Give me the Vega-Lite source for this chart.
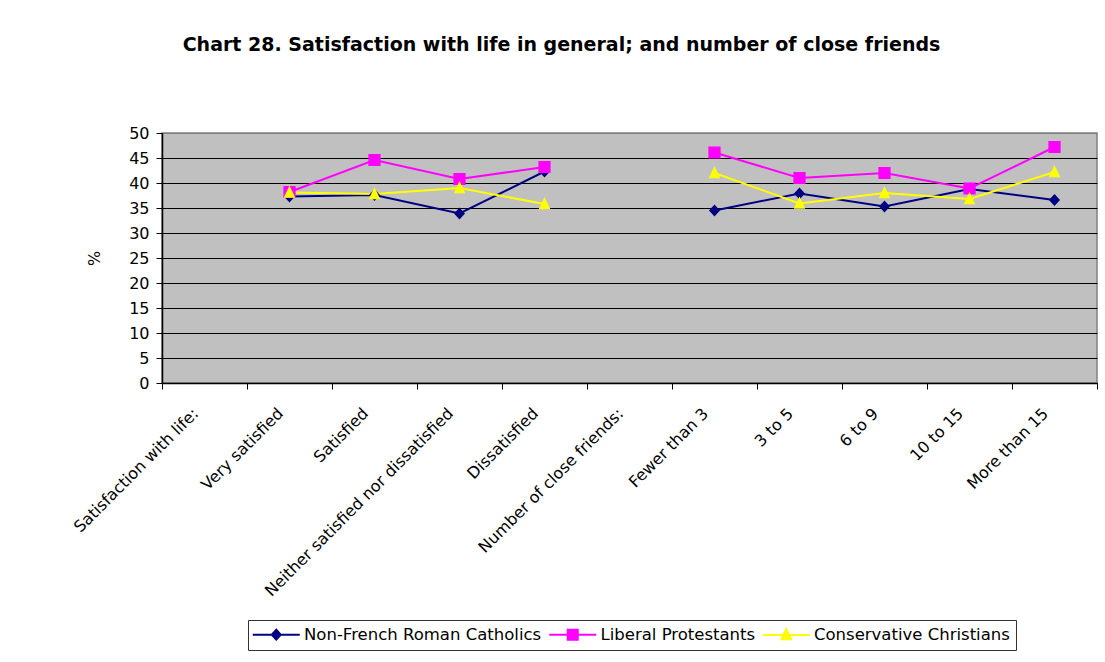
{
  "$schema": "https://vega.github.io/schema/vega-lite/v6.json",
  "width": 935,
  "height": 250,
  "autosize": {"type": "none"},
  "padding": {"left": 162, "top": 133, "right": 8, "bottom": 279},
  "background": "white",
  "title": {
    "text": "Chart 28. Satisfaction with life in general; and number of close friends",
    "font": "DejaVu Sans",
    "fontSize": 19,
    "fontWeight": "bold",
    "color": "black",
    "anchor": "middle",
    "frame": "group",
    "baseline": "alphabetic",
    "offset": 55,
    "dx": -68
  },
  "data": {
    "values": [
      {"series": "Non-French Roman Catholics", "section": "Satisfaction with life", "category": "Very satisfied", "value": 37.3},
      {"series": "Non-French Roman Catholics", "section": "Satisfaction with life", "category": "Satisfied", "value": 37.6},
      {"series": "Non-French Roman Catholics", "section": "Satisfaction with life", "category": "Neither satisfied nor dissatisfied", "value": 33.9},
      {"series": "Non-French Roman Catholics", "section": "Satisfaction with life", "category": "Dissatisfied", "value": 42.3},
      {"series": "Non-French Roman Catholics", "section": "Number of close friends", "category": "Fewer than 3", "value": 34.5},
      {"series": "Non-French Roman Catholics", "section": "Number of close friends", "category": "3 to 5", "value": 37.9},
      {"series": "Non-French Roman Catholics", "section": "Number of close friends", "category": "6 to 9", "value": 35.3},
      {"series": "Non-French Roman Catholics", "section": "Number of close friends", "category": "10 to 15", "value": 38.8},
      {"series": "Non-French Roman Catholics", "section": "Number of close friends", "category": "More than 15", "value": 36.6},
      {"series": "Liberal Protestants", "section": "Satisfaction with life", "category": "Very satisfied", "value": 38.2},
      {"series": "Liberal Protestants", "section": "Satisfaction with life", "category": "Satisfied", "value": 44.6},
      {"series": "Liberal Protestants", "section": "Satisfaction with life", "category": "Neither satisfied nor dissatisfied", "value": 40.8},
      {"series": "Liberal Protestants", "section": "Satisfaction with life", "category": "Dissatisfied", "value": 43.2},
      {"series": "Liberal Protestants", "section": "Number of close friends", "category": "Fewer than 3", "value": 46.1},
      {"series": "Liberal Protestants", "section": "Number of close friends", "category": "3 to 5", "value": 41.0},
      {"series": "Liberal Protestants", "section": "Number of close friends", "category": "6 to 9", "value": 42.0},
      {"series": "Liberal Protestants", "section": "Number of close friends", "category": "10 to 15", "value": 38.9},
      {"series": "Liberal Protestants", "section": "Number of close friends", "category": "More than 15", "value": 47.2},
      {"series": "Conservative Christians", "section": "Satisfaction with life", "category": "Very satisfied", "value": 38.1},
      {"series": "Conservative Christians", "section": "Satisfaction with life", "category": "Satisfied", "value": 37.8},
      {"series": "Conservative Christians", "section": "Satisfaction with life", "category": "Neither satisfied nor dissatisfied", "value": 39.0},
      {"series": "Conservative Christians", "section": "Satisfaction with life", "category": "Dissatisfied", "value": 35.8},
      {"series": "Conservative Christians", "section": "Number of close friends", "category": "Fewer than 3", "value": 42.0},
      {"series": "Conservative Christians", "section": "Number of close friends", "category": "3 to 5", "value": 35.9},
      {"series": "Conservative Christians", "section": "Number of close friends", "category": "6 to 9", "value": 38.0},
      {"series": "Conservative Christians", "section": "Number of close friends", "category": "10 to 15", "value": 36.8},
      {"series": "Conservative Christians", "section": "Number of close friends", "category": "More than 15", "value": 42.2}
    ]
  },
  "encoding": {
    "x": {
      "field": "category",
      "type": "nominal",
      "sort": ["Satisfaction with life:", "Very satisfied", "Satisfied", "Neither satisfied nor dissatisfied", "Dissatisfied", "Number of close friends:", "Fewer than 3", "3 to 5", "6 to 9", "10 to 15", "More than 15"],
      "scale": {
        "type": "band",
        "domain": ["Satisfaction with life:", "Very satisfied", "Satisfied", "Neither satisfied nor dissatisfied", "Dissatisfied", "Number of close friends:", "Fewer than 3", "3 to 5", "6 to 9", "10 to 15", "More than 15"],
        "paddingInner": 0,
        "paddingOuter": 0
      },
      "axis": {
        "title": null,
        "labelAngle": -45,
        "labelAlign": "right",
        "labelBaseline": "top",
        "labelFont": "DejaVu Sans",
        "labelFontSize": 16,
        "labelColor": "black",
        "labelPadding": 16,
        "labelOffset": -15,
        "labelOverlap": false,
        "labelLimit": 500,
        "tickBand": "extent",
        "tickSize": 6,
        "tickColor": "black",
        "domainColor": "black",
        "domainWidth": 1.5,
        "grid": false
      }
    },
    "y": {
      "field": "value",
      "type": "quantitative",
      "scale": {"domain": [0, 50], "nice": false},
      "axis": {
        "title": "%",
        "titleFont": "DejaVu Sans",
        "titleFontSize": 16,
        "titleFontWeight": "normal",
        "titleColor": "black",
        "titlePadding": 26,
        "values": [0, 5, 10, 15, 20, 25, 30, 35, 40, 45, 50],
        "labelFont": "DejaVu Sans",
        "labelFontSize": 16,
        "labelColor": "black",
        "labelPadding": 7,
        "tickSize": 6,
        "tickColor": "black",
        "domainColor": "black",
        "domainWidth": 1.5,
        "grid": true,
        "gridColor": {"condition": {"test": "datum.value >= 50", "value": "#808080"}, "value": "#000000"},
        "gridWidth": 1,
        "gridOpacity": 1
      }
    },
    "color": {
      "field": "series",
      "type": "nominal",
      "scale": {
        "domain": ["Non-French Roman Catholics", "Liberal Protestants", "Conservative Christians"],
        "range": ["#000080", "#FF00FF", "#FFFF00"]
      },
      "legend": {
        "orient": "none",
        "legendX": 86,
        "legendY": 487,
        "direction": "horizontal",
        "columns": 3,
        "title": null,
        "labelFont": "DejaVu Sans",
        "labelFontSize": 16.5,
        "labelColor": "black",
        "labelLimit": 400,
        "symbolSize": 100,
        "symbolStrokeWidth": 2,
        "symbolOffset": 14,
        "labelOffset": 19.5,
        "columnPadding": 2.5,
        "padding": 6,
        "strokeColor": "#333333",
        "fillColor": "white"
      }
    }
  },
  "layer": [
    {
      "mark": {"type": "line", "strokeWidth": 2},
      "encoding": {"detail": {"field": "section", "type": "nominal"}}
    },
    {
      "mark": {"type": "point", "filled": true, "size": 150, "opacity": 1},
      "encoding": {
        "shape": {
          "field": "series",
          "type": "nominal",
          "scale": {
            "domain": ["Non-French Roman Catholics", "Liberal Protestants", "Conservative Christians"],
            "range": ["M-4.7,0H4.7M0,-1L0.9,0L0,1L-0.9,0Z", "M-4.7,0H4.7M-1,-1H1V1H-1Z", "M-4.7,0H4.7M0,-1.15L0.95,0.85H-0.95Z"]
          }
        }
      }
    }
  ],
  "config": {
    "view": {"fill": "#C0C0C0", "stroke": "#808080", "strokeWidth": 1.5}
  }
}
